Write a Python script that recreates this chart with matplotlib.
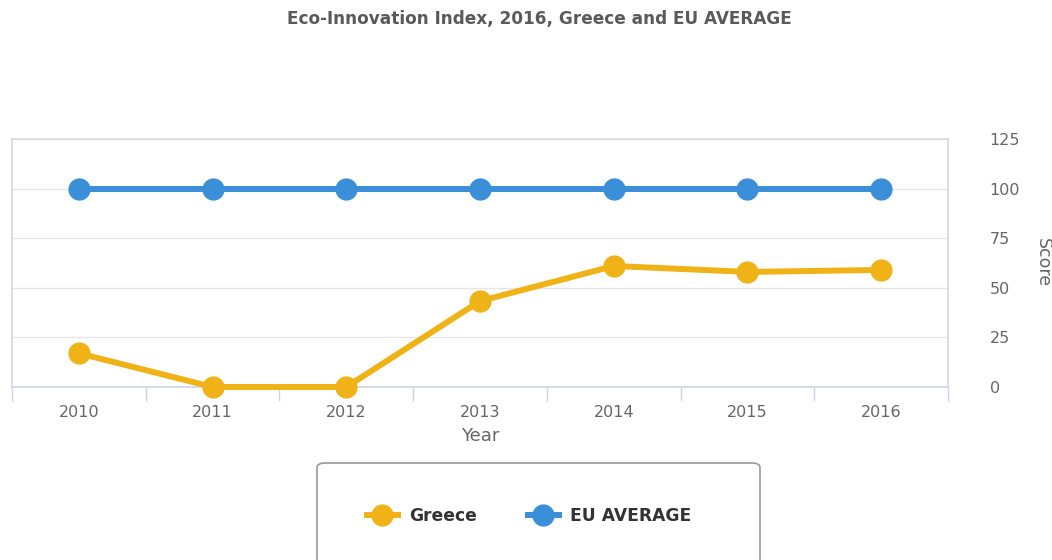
import matplotlib
matplotlib.use('Agg')
import matplotlib.pyplot as plt
from matplotlib.patches import FancyBboxPatch
from matplotlib.lines import Line2D

# Eco-Innovation scores per year
years = ['2010', '2011', '2012', '2013', '2014', '2015', '2016']
greece = [17, 0, 0, 43.3, 61, 58, 59]
eu_average = [100, 100, 100, 100, 100, 100, 100]
y_ticks = [0, 25, 50, 75, 100, 125]

GOLD = '#f0b317'
BLUE = '#3b8fd8'
GRID = '#e6e6e6'
AXIS = '#ccd6eb'
TEXT = '#666666'

plt.rcParams['font.family'] = ['DejaVu Sans']

fig = plt.figure(figsize=(10.52, 5.6), dpi=100)
W, H = 1052, 560
ax = fig.add_axes([12 / W, 1 - 387 / H, (948 - 12) / W, (387 - 139) / H])

x = list(range(len(years)))
ax.plot(x, greece, color=GOLD, lw=4.3, marker='o', ms=15, zorder=3,
        solid_capstyle='round', clip_on=False)
ax.plot(x, eu_average, color=BLUE, lw=4.3, marker='o', ms=15, zorder=3,
        solid_capstyle='round', clip_on=False)

ax.set_xlim(-0.5, len(years) - 0.5)
ax.set_ylim(0, 125)

# category labels at centres, tick marks on the boundaries
ax.set_xticks(x)
ax.set_xticklabels(years, color=TEXT, fontsize=11.5)
ax.set_xticks([i - 0.5 for i in range(len(years) + 1)], minor=True)
ax.tick_params(axis='x', which='major', length=0, pad=13)
ax.tick_params(axis='x', which='minor', length=10, width=1, color=AXIS)

ax.yaxis.tick_right()
ax.set_yticks(y_ticks)
ax.set_yticklabels([str(v) for v in y_ticks], color=TEXT, fontsize=11.5,
                   ha='left')
ax.tick_params(axis='y', length=0, pad=30)
ax.yaxis.grid(True, color=GRID, lw=1)
ax.set_axisbelow(True)

for side in ['left', 'top', 'right']:
    ax.spines[side].set_color('#d8d8d8')
    ax.spines[side].set_linewidth(1.2)
ax.spines['bottom'].set_color(AXIS)
ax.spines['bottom'].set_linewidth(1.2)

ax.set_xlabel('Year', color=TEXT, fontsize=13, labelpad=5)
ax.yaxis.set_label_position('right')
ax.set_ylabel('Score', color=TEXT, fontsize=12.5, rotation=-90, labelpad=23)

fig.text(539 / W, 1 - 19 / H, 'Eco-Innovation Index, 2016, Greece and EU AVERAGE',
         ha='center', va='center', fontsize=12.2, fontweight='bold',
         color='#5a5a5a')

# legend box running off the bottom edge
box = FancyBboxPatch((317 / W, -20 / H), (760 - 317) / W, (560 - 463 + 20) / H,
                     boxstyle='round,pad=0,rounding_size=0.008',
                     transform=fig.transFigure, facecolor='white',
                     edgecolor='#999999', lw=1.2)
fig.patches.append(box)

handles = [Line2D([], [], color=GOLD, lw=4.3, marker='o', ms=15),
           Line2D([], [], color=BLUE, lw=4.3, marker='o', ms=15)]
fig.legend(handles, ['Greece', 'EU AVERAGE'], loc='center',
           bbox_to_anchor=(529 / W, 1 - 516 / H), ncol=2, frameon=False,
           handlelength=1.8, columnspacing=3.0, handletextpad=0.65,
           prop={'weight': 'bold', 'size': 12.3}, labelcolor='#333333')

fig.savefig('out.png', dpi=100, facecolor='white')
